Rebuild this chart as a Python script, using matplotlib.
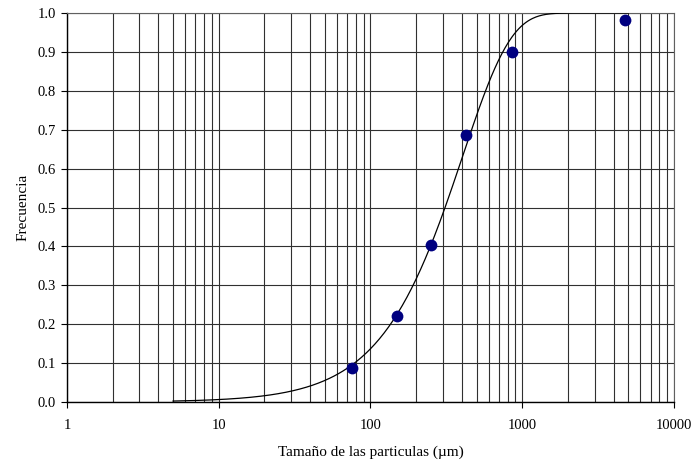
import numpy as np
import matplotlib
matplotlib.use("Agg")
import matplotlib.pyplot as plt
from matplotlib.ticker import FixedLocator, NullFormatter, LogLocator

plt.rcParams['font.family'] = ['Liberation Serif', 'DejaVu Serif']

# Sieve data: particle size (µm) and cumulative passing fraction
sizes_um = [75, 150, 250, 425, 850, 4750]
frequency = [0.088, 0.222, 0.404, 0.686, 0.901, 0.981]

# Rosin-Rammler fit parameters
d63 = 405.0   # characteristic size (µm)
n_rr = 1.37   # uniformity index
curve_range = (5, 5000)

x_ticks = [1, 10, 100, 1000, 10000]
x_tick_labels = ['1', '10', '100', '1000', '10000']
y_ticks = [0.0, 0.1, 0.2, 0.3, 0.4, 0.5, 0.6, 0.7, 0.8, 0.9, 1.0]

fig = plt.figure(figsize=(6.94, 4.65), dpi=100)
ax = fig.add_axes([0.0965, 0.1355, 0.8747, 0.8365])

ax.set_xscale('log')
ax.set_xlim(1, 10000)
ax.set_ylim(0, 1.0)

# grid
ax.xaxis.set_major_locator(FixedLocator(x_ticks))
ax.xaxis.set_minor_locator(LogLocator(base=10, subs=np.arange(2, 10), numticks=20))
ax.xaxis.set_minor_formatter(NullFormatter())
ax.set_xticklabels(x_tick_labels)
ax.set_yticks(y_ticks)
ax.set_yticklabels([f"{v:.1f}" for v in y_ticks])
ax.grid(True, which='both', axis='x', color='#303030', linewidth=0.8)
ax.grid(True, which='major', axis='y', color='#303030', linewidth=0.8)
ax.set_axisbelow(True)

ax.tick_params(axis='both', which='major', direction='out', length=4, width=0.8,
               labelsize=10.5, colors='black', pad=4)
ax.tick_params(axis='x', which='minor', length=0)
ax.tick_params(axis='x', which='major', pad=8)

for side in ('top', 'right'):
    ax.spines[side].set_color('#606060')
    ax.spines[side].set_linewidth(0.8)
for side in ('left', 'bottom'):
    ax.spines[side].set_color('black')
    ax.spines[side].set_linewidth(1.0)

# fitted curve
d = np.logspace(np.log10(curve_range[0]), np.log10(curve_range[1]), 400)
F = 1.0 - np.exp(-(d / d63) ** n_rr)
ax.plot(d, F, color='black', linewidth=0.9, zorder=3)

# measured points
ax.plot(sizes_um, frequency, 'o', color='#000080', markersize=8.5,
        markeredgewidth=0, zorder=4)

ax.set_xlabel('Tamaño de las particulas (µm)', fontsize=11, labelpad=10)
ax.set_ylabel('Frecuencia', fontsize=11, labelpad=6)

fig.savefig('out.png', dpi=100)
